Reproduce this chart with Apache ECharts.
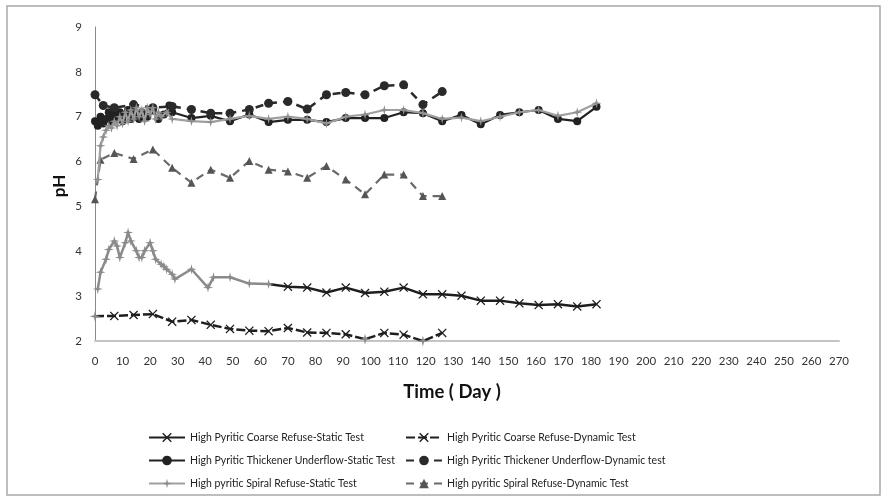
<!DOCTYPE html>
<html>
<head>
<meta charset="utf-8">
<script src="https://cdn.jsdelivr.net/npm/echarts@6/dist/echarts.min.js"></script>
<style>html,body{margin:0;padding:0;background:#fff}#c{width:886px;height:501px}</style>
</head>
<body>
<div id="c"></div>
<script>
// ---- Data ----
const seriesNames = [
  'High Pyritic Coarse Refuse-Static Test',
  'High Pyritic Coarse Refuse-Dynamic Test',
  'High Pyritic Thickener Underflow-Static Test',
  'High Pyritic Thickener Underflow-Dynamic test',
  'High pyritic Spiral Refuse-Static Test',
  'High pyritic Spiral Refuse-Dynamic Test'
];
const xTicks = [0,10,20,30,40,50,60,70,80,90,100,110,120,130,140,150,160,170,180,190,200,210,220,230,240,250,260,270];
const yTicks = [2,3,4,5,6,7,8,9];

const coarseStaticDays = [1,2,4,5,7,8,9,11,12,13,15,16,17,18,20,21,22,24,25,26,28,29,35,41,43,49,56,63,70,77,84,91,98,105,112,119,126,133,140,147,154,161,168,175,182];
const coarseStaticPH   = [3.16,3.53,3.82,4.04,4.23,4.12,3.86,4.19,4.42,4.23,4.01,3.86,3.86,4.01,4.19,4.01,3.82,3.71,3.66,3.60,3.49,3.38,3.60,3.19,3.42,3.42,3.28,3.27,3.21,3.19,3.08,3.19,3.07,3.10,3.19,3.04,3.04,3.01,2.90,2.90,2.84,2.80,2.82,2.77,2.82];
const coarseStaticGrayUntil = 64; // early part of this curve appears gray in the reference

const coarseDynDays = [0,7,14,21,28,35,42,49,56,63,70,77,84,91,98,105,112,119,126];
const coarseDynPH   = [2.55,2.56,2.58,2.60,2.43,2.47,2.36,2.27,2.23,2.22,2.29,2.19,2.18,2.15,2.04,2.18,2.14,2.00,2.18];
const coarseDynGrayDays = [0,98,119];

const tuStaticDays = [0,1,2,3,4,5,6,7,8,9,10,11,12,13,14,16,17,19,21,23,25,27,28,35,42,49,56,63,70,77,84,91,98,105,112,119,126,133,140,147,154,161,168,175,182];
const tuStaticPH   = [6.90,6.80,7.00,6.85,6.95,7.10,6.90,7.05,6.95,7.10,6.90,7.05,7.15,6.95,7.10,6.95,7.10,7.00,7.15,6.95,7.05,7.25,7.10,6.97,7.02,6.90,7.05,6.88,6.93,6.93,6.88,6.97,6.97,6.97,7.10,7.08,6.90,7.04,6.83,7.04,7.10,7.15,6.95,6.90,7.22];

const tuDynDays = [0,3,7,14,21,28,35,42,49,56,63,70,77,84,91,98,105,112,119,126];
const tuDynPH   = [7.49,7.25,7.20,7.27,7.20,7.23,7.16,7.08,7.08,7.16,7.30,7.34,7.17,7.49,7.54,7.49,7.69,7.71,7.27,7.56];

const spiralStaticDays = [1,2,3,4,5,6,7,8,9,10,11,12,13,14,15,16,17,18,19,20,21,22,23,24,26,28,35,42,49,56,63,70,77,84,91,98,105,112,119,126,133,140,147,154,161,168,175,182];
const spiralStaticPH   = [5.60,6.35,6.55,6.70,6.80,6.75,6.90,6.80,7.00,6.85,7.10,6.90,7.15,6.95,7.20,7.00,7.15,6.90,7.20,7.05,7.20,6.95,7.10,7.00,7.10,6.95,6.90,6.88,6.95,7.02,6.95,7.00,6.95,6.85,7.00,7.05,7.15,7.15,7.08,6.95,6.98,6.90,7.00,7.10,7.15,7.02,7.10,7.30];

const spiralDynDays = [0,2,7,14,21,28,35,42,49,56,63,70,77,84,91,98,105,112,119,126];
const spiralDynPH   = [5.16,6.04,6.19,6.06,6.27,5.86,5.53,5.82,5.64,6.01,5.82,5.78,5.64,5.90,5.60,5.27,5.71,5.71,5.23,5.23];

// ---- Build ----
const zip = (a, b) => a.map((d, i) => [d, b[i]]);
const X_SYM = 'path://M0,1L1,0L5,4L9,0L10,1L6,5L10,9L9,10L5,6L1,10L0,9L4,5Z';
const STAR_SYM = 'path://M5,0L6,4L10,5L6,6L5,10L4,6L0,5L4,4Z';
const FONT = 'Lato, "Liberation Sans", sans-serif';
const BLACK = '#1e1e1e', GRAY = '#8a8a8a';

const chart = echarts.init(document.getElementById('c'), null, {renderer: 'canvas'});

// coarse static: early points gray, later black; line colored with a hard-stop gradient
const csData = zip(coarseStaticDays, coarseStaticPH).map(p =>
  p[0] < coarseStaticGrayUntil ? {value: p, symbol: STAR_SYM, symbolSize: 10, itemStyle: {color: GRAY}} : p);
const csMin = coarseStaticDays[0], csMax = coarseStaticDays[coarseStaticDays.length - 1];
const csFrac = (coarseStaticGrayUntil - csMin) / (csMax - csMin);
const csLineColor = new echarts.graphic.LinearGradient(0, 0, 1, 0, [
  {offset: 0, color: GRAY}, {offset: csFrac, color: GRAY},
  {offset: csFrac, color: BLACK}, {offset: 1, color: BLACK}
]);

const cdData = zip(coarseDynDays, coarseDynPH).map(p =>
  coarseDynGrayDays.indexOf(p[0]) >= 0 ? {value: p, symbol: STAR_SYM, symbolSize: 11, itemStyle: {color: GRAY}} : p);

const legendText = {fontSize: 10.5, color: '#222', fontFamily: FONT};

const option = {
  animation: false,
  backgroundColor: '#fff',
  grid: {left: 95, right: 47, top: 27, bottom: 160, containLabel: false},
  xAxis: {
    type: 'value', min: 0, max: 270, interval: 10,
    axisLine: {show: true, lineStyle: {color: '#c4c4c4', width: 2}},
    axisTick: {show: false},
    splitLine: {show: false},
    axisLabel: {color: '#333', fontSize: 11.5, fontFamily: FONT, margin: 14,
      formatter: v => xTicks.indexOf(v) >= 0 ? String(v) : ''}
  },
  yAxis: {
    type: 'value', min: 2, max: 9, interval: 1,
    axisLine: {show: true, lineStyle: {color: '#8a8a8a', width: 1}},
    axisTick: {show: false},
    splitLine: {show: false},
    axisLabel: {color: '#333', fontSize: 11.5, fontFamily: FONT, margin: 13,
      formatter: v => yTicks.indexOf(v) >= 0 ? String(v) : ''}
  },
  legend: [
    {
      data: [
        {name: seriesNames[0], lineStyle: {color: BLACK}, itemStyle: {color: BLACK}},
        seriesNames[2], seriesNames[4]
      ],
      orient: 'vertical', left: 143, top: 427, itemWidth: 36, itemHeight: 12, itemGap: 12,
      textStyle: legendText
    },
    {
      data: [seriesNames[1], seriesNames[3], seriesNames[5]],
      orient: 'vertical', left: 400, top: 427, itemWidth: 36, itemHeight: 12, itemGap: 12,
      textStyle: legendText
    }
  ],
  graphic: [
    {type: 'rect', shape: {x: 7, y: 6, width: 873, height: 489},
      style: {fill: 'none', stroke: '#a8a8a8', lineWidth: 1.5}, silent: true},
    {type: 'text', x: 60, y: 186, rotation: Math.PI / 2,
      style: {text: 'pH', font: 'bold 17px ' + FONT, fill: '#111', align: 'center', verticalAlign: 'middle'}},
    {type: 'text', x: 452, y: 392,
      style: {text: 'Time ( Day )', font: 'bold 18.5px ' + FONT, fill: '#111', align: 'center', verticalAlign: 'middle'}}
  ],
  series: [
    {
      name: seriesNames[0], type: 'line', data: csData,
      symbol: X_SYM, symbolSize: 9, showAllSymbol: true,
      lineStyle: {width: 2.5, color: csLineColor}, itemStyle: {color: BLACK}, z: 2
    },
    {
      name: seriesNames[1], type: 'line', data: cdData,
      symbol: X_SYM, symbolSize: 9, showAllSymbol: true,
      lineStyle: {width: 2.5, color: BLACK, type: [9, 3]}, itemStyle: {color: BLACK}, z: 2
    },
    {
      name: seriesNames[2], type: 'line', data: zip(tuStaticDays, tuStaticPH),
      symbol: 'circle', symbolSize: 8, showAllSymbol: true,
      lineStyle: {width: 2.2, color: '#222'}, itemStyle: {color: '#222'}, z: 3
    },
    {
      name: seriesNames[3], type: 'line', data: zip(tuDynDays, tuDynPH),
      symbol: 'circle', symbolSize: 9, showAllSymbol: true,
      lineStyle: {width: 2.5, color: '#2a2a2a', type: [8, 6]}, itemStyle: {color: '#2a2a2a'}, z: 3
    },
    {
      name: seriesNames[4], type: 'line', data: zip(spiralStaticDays, spiralStaticPH),
      symbol: STAR_SYM, symbolSize: 10, showAllSymbol: true,
      lineStyle: {width: 2.2, color: '#a0a0a0'}, itemStyle: {color: '#8e8e8e'}, z: 4
    },
    {
      name: seriesNames[5], type: 'line', data: zip(spiralDynDays, spiralDynPH),
      symbol: 'triangle', symbolSize: 8, showAllSymbol: true,
      lineStyle: {width: 2.2, color: '#6a6a6a', type: [8, 6]}, itemStyle: {color: '#555'}, z: 3
    }
  ]
};
chart.setOption(option);
</script>
</body>
</html>
